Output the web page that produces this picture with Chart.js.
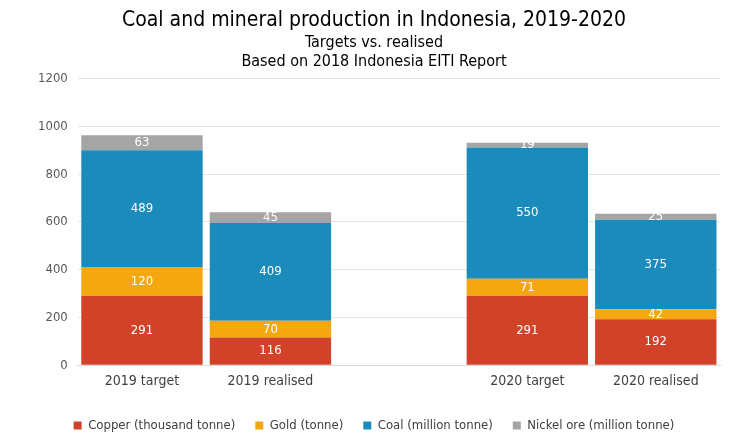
<!DOCTYPE html>
<html>
<head>
<meta charset="utf-8">
<script src="https://cdn.jsdelivr.net/npm/chart.js@4"></script>
<style>
  html, body { margin: 0; padding: 0; background: #fff; }
  #wrap { width: 746px; height: 439px; }
</style>
</head>
<body>
<div id="wrap"><canvas id="chart"></canvas></div>
<script>
const categories = ['2019 target', '2019 realised', '', '2020 target', '2020 realised'];
const copper = [291, 116, null, 291, 192];
const gold = [120, 70, null, 71, 42];
const coal = [489, 409, null, 550, 375];
const nickel = [63, 45, null, 19, 25];
const yTicks = [0, 200, 400, 600, 800, 1000, 1200];

const FONT = "'Liberation Sans Narrow', 'DejaVu Sans Condensed', 'Roboto', sans-serif";

// white value labels in the middle of each segment
const segmentLabels = {
  id: 'segmentLabels',
  afterDatasetsDraw(chart) {
    const { ctx } = chart;
    ctx.save();
    ctx.fillStyle = '#ffffff';
    ctx.font = '13px ' + FONT;
    ctx.textAlign = 'center';
    ctx.textBaseline = 'middle';
    chart.data.datasets.forEach((ds, i) => {
      chart.getDatasetMeta(i).data.forEach((bar, j) => {
        const v = ds.data[j];
        if (v == null) return;
        ctx.fillText(String(v), bar.x, (bar.y + bar.base) / 2);
      });
    });
    ctx.restore();
  }
};

const mk = (label, data, color) => ({
  label, data, backgroundColor: color,
  barPercentage: 0.945, categoryPercentage: 1.0
});

new Chart(document.getElementById('chart'), {
  type: 'bar',
  plugins: [segmentLabels],
  data: {
    labels: categories,
    datasets: [
      mk('Copper (thousand tonne)', copper, '#D24228'),
      mk('Gold (tonne)', gold, '#F4A70F'),
      mk('Coal (million tonne)', coal, '#1A8BBB'),
      mk('Nickel ore (million tonne)', nickel, '#A5A5A5')
    ]
  },
  options: {
    responsive: true,
    maintainAspectRatio: false,
    animation: false,
    layout: { padding: { left: 28, right: 26, top: 4, bottom: -3 } },
    scales: {
      x: {
        stacked: true,
        grid: { display: false },
        border: { display: true, color: '#d9d9d9' },
        ticks: { color: '#404040', font: { family: FONT, size: 14 }, padding: 0 },
        afterFit: (scale) => { scale.height += 9; }
      },
      y: {
        stacked: true,
        min: 0, max: 1200,
        afterBuildTicks: (axis) => { axis.ticks = yTicks.map(v => ({ value: v })); },
        grid: { color: '#e4e4e4', drawTicks: false },
        border: { display: false },
        ticks: {
          color: '#595959', font: { family: FONT, size: 13 }, padding: 10,
          callback: (v) => String(v)
        }
      }
    },
    plugins: {
      title: {
        display: true,
        text: 'Coal and mineral production in Indonesia, 2019-2020',
        color: '#000',
        font: { family: FONT, size: 21, weight: 'normal' },
        padding: { top: 4, bottom: 0 }
      },
      subtitle: {
        display: true,
        text: ['Targets vs. realised', 'Based on 2018 Indonesia EITI Report'],
        color: '#000',
        font: { family: FONT, size: 16, weight: 'normal', lineHeight: 1.2 },
        padding: { top: 0, bottom: 7 }
      },
      legend: {
        position: 'bottom',
        labels: {
          boxWidth: 8, boxHeight: 8, padding: 20,
          color: '#404040',
          font: { family: FONT, size: 13 }
        }
      },
      tooltip: { enabled: false }
    }
  }
});
</script>
</body>
</html>
